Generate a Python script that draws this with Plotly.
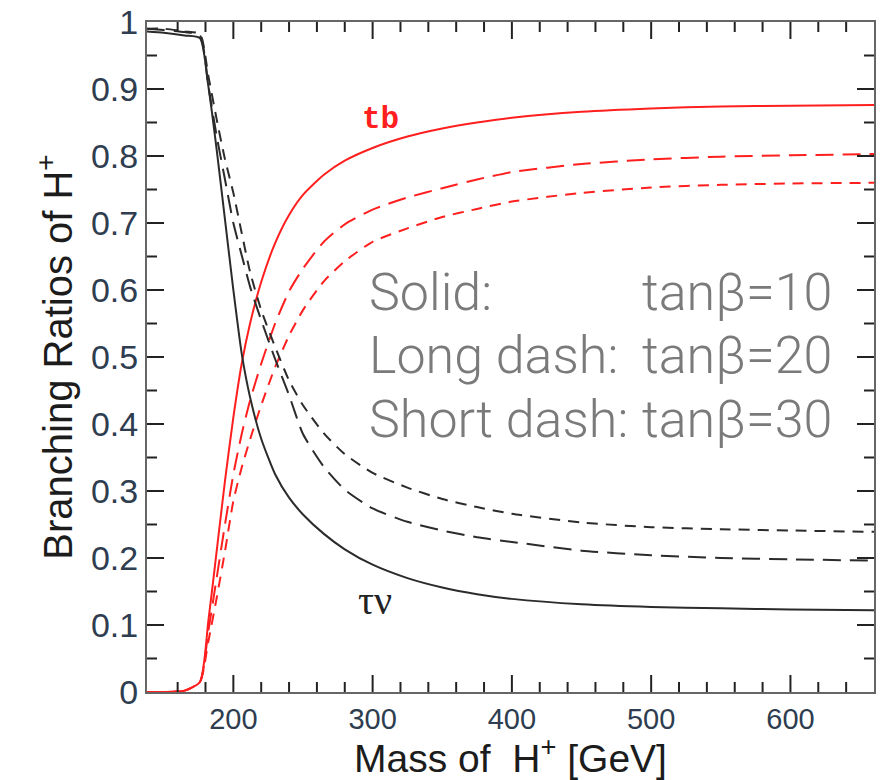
import plotly.graph_objects as go

# Charged Higgs mass grid [GeV]
mass = [138, 150, 165, 176, 182, 188, 194, 200, 206, 212, 220, 230, 240, 250,
        265, 280, 300, 325, 350, 375, 400, 450, 500, 550, 600, 660]

# BR(H+ -> t b)
tb_tan10 = [0.0, 0.0, 0.002, 0.015, 0.105, 0.21, 0.315, 0.41, 0.49, 0.55, 0.612, 0.67,
            0.712, 0.742, 0.772, 0.793, 0.812, 0.829, 0.841, 0.85, 0.857, 0.866, 0.871,
            0.874, 0.875, 0.876]
tb_tan20 = [0.0, 0.0, 0.002, 0.015, 0.09, 0.17, 0.25, 0.325, 0.385, 0.435, 0.49, 0.55,
            0.598, 0.632, 0.672, 0.698, 0.72, 0.738, 0.752, 0.765, 0.776, 0.788, 0.795,
            0.799, 0.801, 0.803]
tb_tan30 = [0.0, 0.0, 0.002, 0.015, 0.075, 0.14, 0.21, 0.285, 0.335, 0.377, 0.428, 0.485,
            0.532, 0.57, 0.613, 0.643, 0.672, 0.692, 0.709, 0.721, 0.732, 0.745, 0.753,
            0.757, 0.759, 0.760]

# BR(H+ -> tau nu)
taunu_tan10 = [0.986, 0.984, 0.980, 0.976, 0.905, 0.81, 0.705, 0.60, 0.505, 0.44, 0.378,
               0.325, 0.29, 0.265, 0.236, 0.213, 0.19, 0.17, 0.156, 0.146, 0.139, 0.131,
               0.127, 0.125, 0.123, 0.122]
taunu_tan20 = [0.99, 0.988, 0.985, 0.98, 0.905, 0.83, 0.765, 0.70, 0.652, 0.605, 0.555,
               0.497, 0.443, 0.385, 0.336, 0.302, 0.274, 0.254, 0.241, 0.231, 0.224, 0.211,
               0.204, 0.20, 0.198, 0.196]
taunu_tan30 = [0.99, 0.99, 0.986, 0.982, 0.92, 0.855, 0.795, 0.745, 0.685, 0.627, 0.57,
               0.515, 0.465, 0.428, 0.386, 0.355, 0.327, 0.305, 0.288, 0.276, 0.266, 0.253,
               0.246, 0.243, 0.241, 0.239]

x_ticks = [200, 300, 400, 500, 600]
y_ticks = [0, 0.1, 0.2, 0.3, 0.4, 0.5, 0.6, 0.7, 0.8, 0.9, 1]
x_minor = [160, 180, 220, 240, 260, 280, 320, 340, 360, 380, 420, 440, 460, 480,
           520, 540, 560, 580, 620, 640]
y_minor = [0.05, 0.15, 0.25, 0.35, 0.45, 0.55, 0.65, 0.75, 0.85, 0.95]
x_range = [138, 660]
y_range = [0, 1]

W, H = 889, 780
MARGIN = dict(l=147, r=15, t=22, b=88)
PLOT_W = W - MARGIN["l"] - MARGIN["r"]
PLOT_H = H - MARGIN["t"] - MARGIN["b"]

RED = "#ff1f1f"
BLACK = "#2b2b2b"
LONG = "18px,9px"
SHORT = "11px,8px"

fig = go.Figure()
series = [
    (tb_tan10, RED, "solid"), (tb_tan20, RED, LONG), (tb_tan30, RED, SHORT),
    (taunu_tan10, BLACK, "solid"), (taunu_tan20, BLACK, LONG), (taunu_tan30, BLACK, SHORT),
]
for vals, col, dash in series:
    fig.add_trace(go.Scatter(x=mass, y=vals, mode="lines",
                             line=dict(color=col, width=2, dash=dash,
                                       shape="spline", smoothing=0.6),
                             showlegend=False, hoverinfo="skip"))

# inward tick marks on all four sides (major 17 px, minor 10 px), converted to axis units
px_x = (x_range[1] - x_range[0]) / PLOT_W
px_y = (y_range[1] - y_range[0]) / PLOT_H
tx, ty = [], []
for vals, length in ((x_ticks, 17), (x_minor, 10)):
    for v in vals:
        tx += [v, v, None, v, v, None]
        ty += [y_range[0], y_range[0] + length * px_y, None,
               y_range[1], y_range[1] - length * px_y, None]
for vals, length in ((y_ticks[1:-1], 17), (y_minor, 10)):
    for v in vals:
        tx += [x_range[0], x_range[0] + length * px_x, None,
               x_range[1], x_range[1] - length * px_x, None]
        ty += [v, v, None, v, v, None]
fig.add_trace(go.Scatter(x=tx, y=ty, mode="lines", line=dict(color="#222", width=2),
                         showlegend=False, hoverinfo="skip", cliponaxis=False))

# channel labels
fig.add_annotation(x=305.5, y=0.854, text="tb", showarrow=False,
                   font=dict(family="Liberation Mono, Courier New, monospace", size=31,
                             color=RED, weight="bold"))
fig.add_annotation(x=302, y=0.137, text="τν", showarrow=False,
                   font=dict(family="Liberation Serif, Times New Roman, serif", size=40,
                             color="#222"))

# line-style key: labels in a left column, tanβ values right-aligned
key_font = dict(family="Roboto, Liberation Sans, sans-serif", size=52, color="#7a7a7a", weight=300)
rows = [("Solid:", "tanβ=10", 0.597), ("Long dash:", "tanβ=20", 0.502),
        ("Short dash:", "tanβ=30", 0.406)]
for left, right, yv in rows:
    fig.add_annotation(x=296.0, y=yv, text=left, showarrow=False, xanchor="left",
                       yanchor="middle", font=key_font)
    fig.add_annotation(x=631.5, y=yv, text=right, showarrow=False, xanchor="right",
                       yanchor="middle", font=key_font)

frame = dict(showline=True, linecolor="#666", linewidth=2, mirror=True,
             ticks="", showgrid=False, zeroline=False)

fig.update_layout(
    xaxis=dict(
        range=x_range, tickvals=x_ticks,
        tickfont=dict(family="Liberation Sans, Arial, sans-serif", size=29, color="#2e3d4f"),
        title=dict(text="Mass of  H<sup>+</sup> [GeV]", standoff=8,
                   font=dict(family="Liberation Sans, Arial, sans-serif", size=39, color="#1c1c1c")),
        **frame,
    ),
    yaxis=dict(
        range=y_range, tickvals=y_ticks,
        tickfont=dict(family="Liberation Sans, Arial, sans-serif", size=34, color="#2e3d4f"),
        title=dict(text="Branching Ratios of H<sup>+</sup>", standoff=6,
                   font=dict(family="Liberation Sans, Arial, sans-serif", size=40, color="#1c1c1c")),
        **frame,
    ),
    width=W, height=H,
    margin=dict(**MARGIN, autoexpand=False),
    plot_bgcolor="white", paper_bgcolor="white",
)

fig.write_html("out.html")
